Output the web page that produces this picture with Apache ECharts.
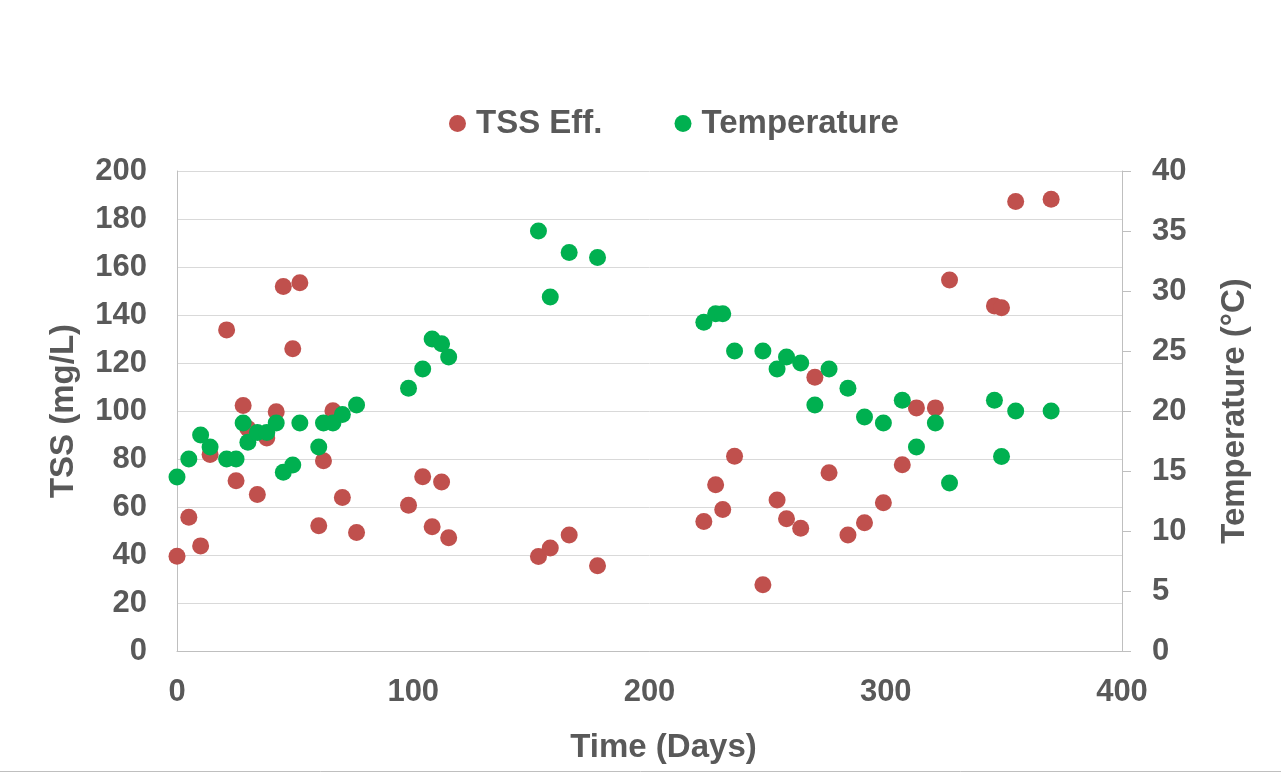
<!DOCTYPE html>
<html>
<head>
<meta charset="utf-8">
<script src="https://cdn.jsdelivr.net/npm/echarts@6/dist/echarts.min.js"></script>
<style>
  html, body { margin: 0; padding: 0; background: #fff; }
  #chart { width: 1281px; height: 774px; }
</style>
</head>
<body>
<div id="chart"></div>
<script>
  // sampling days (shared by both series)
  const days = [0, 5, 10, 14, 21, 25, 28, 30, 34, 38, 42, 45, 49, 52, 60, 62, 66, 70, 76,
    98, 104, 108, 112, 115, 153, 158, 166, 178, 223, 228, 231, 236, 248, 254, 258, 264,
    270, 276, 284, 291, 299, 307, 313, 321, 327, 346, 349, 355, 370];
  // TSS effluent, mg/L
  const tssEff = [39.5, 55.7, 43.8, 81.9, 133.8, 70.9, 102.3, 92.7, 65.2, 88.8, 99.7, 151.9,
    125.9, 153.4, 52.2, 79.3, 100.1, 64.0, 49.4, 60.7, 72.6, 51.8, 70.4, 47.2, 39.4, 42.9,
    48.3, 35.5, 54.0, 69.3, 59.0, 81.1, 27.6, 62.9, 55.1, 51.1, 114.1, 74.3, 48.3, 53.4,
    61.8, 77.6, 101.3, 101.3, 154.6, 143.8, 143.0, 187.3, 188.2];
  // temperature, °C
  const temperature = [14.5, 16.0, 18.0, 17.0, 16.0, 16.0, 19.0, 17.4, 18.2, 18.2, 19.0, 14.9,
    15.5, 19.0, 17.0, 19.0, 19.0, 19.7, 20.5, 21.9, 23.5, 26.0, 25.6, 24.5, 35.0, 29.5, 33.2,
    32.8, 27.4, 28.1, 28.1, 25.0, 25.0, 23.5, 24.5, 24.0, 20.5, 23.5, 21.9, 19.5, 19.0, 20.9,
    17.0, 19.0, 14.0, 20.9, 16.2, 20.0, 20.0];

  const textColor = "#595959";
  const font = "'Liberation Sans', Arial, sans-serif";

  const chart = echarts.init(document.getElementById("chart"));
  const pairs = (ys) => days.map((d, i) => [d, ys[i]]);

  chart.setOption({
    animation: false,
    textStyle: { fontFamily: font },
    legend: {
      top: 102,
      left: 444,
      icon: "circle",
      itemWidth: 17,
      itemHeight: 17,
      itemGap: 72,
      textStyle: {
        color: textColor, fontSize: 33, fontWeight: "bold", fontFamily: font,
        padding: [0, 0, 0, 5]
      },
      data: ["TSS Eff.", "Temperature"]
    },
    grid: { left: 177, right: 159, top: 171, bottom: 123 },
    xAxis: {
      type: "value",
      min: 0, max: 400, interval: 100,
      name: "Time (Days)",
      nameLocation: "middle",
      nameGap: 80,
      nameTextStyle: { color: textColor, fontSize: 33, fontWeight: "bold", padding: [0, 0, 0, 28] },
      axisLine: { show: true, lineStyle: { color: "#bfbfbf" } },
      axisTick: { show: false },
      splitLine: { show: false },
      axisLabel: { color: textColor, fontSize: 31, fontWeight: "bold", margin: 26 }
    },
    yAxis: [
      {
        type: "value",
        min: 0, max: 200, interval: 20,
        name: "TSS (mg/L)",
        nameLocation: "middle",
        nameGap: 97,
        nameTextStyle: { color: textColor, fontSize: 33, fontWeight: "bold" },
        axisLine: { show: true, lineStyle: { color: "#bfbfbf" } },
        axisTick: { show: false },
        splitLine: { lineStyle: { color: "#d9d9d9" } },
        axisLabel: { color: textColor, fontSize: 31, fontWeight: "bold", margin: 30 }
      },
      {
        type: "value",
        min: 0, max: 40, interval: 5,
        name: "Temperature (°C)",
        nameLocation: "middle",
        nameGap: 96,
        nameRotate: 90,
        nameTextStyle: { color: textColor, fontSize: 33, fontWeight: "bold" },
        axisLine: { show: true, lineStyle: { color: "#bfbfbf" } },
        axisTick: { show: true, length: 9, lineStyle: { color: "#bfbfbf" } },
        splitLine: { show: false },
        axisLabel: { color: textColor, fontSize: 31, fontWeight: "bold", margin: 30 }
      }
    ],
    series: [
      {
        name: "TSS Eff.",
        type: "scatter",
        yAxisIndex: 0,
        symbolSize: 17,
        itemStyle: { color: "#c0504d", opacity: 1 },
        data: pairs(tssEff)
      },
      {
        name: "Temperature",
        type: "scatter",
        yAxisIndex: 1,
        symbolSize: 17,
        itemStyle: { color: "#00b050", opacity: 1 },
        data: pairs(temperature)
      }
    ],
    graphic: [
      {
        type: "line",
        shape: { x1: 0, y1: 771.5, x2: 1281, y2: 771.5 },
        style: { stroke: "#bfbfbf", lineWidth: 1 }
      }
    ]
  });
</script>
</body>
</html>
